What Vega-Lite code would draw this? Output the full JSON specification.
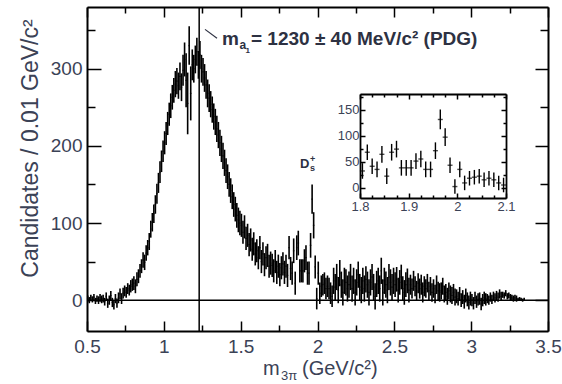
{
"$schema": "https://vega.github.io/schema/vega-lite/v6.json",
"width": 461, "height": 324,
"autosize": {"type": "none"},
"padding": {"left": 87, "top": 7, "right": 14, "bottom": 53},
"background": "white",
"config": {
  "view": {"stroke": null},
  "axis": {"grid": false, "domainColor": "#000", "domainWidth": 2, "tickColor": "#000", "tickWidth": 1.5, "labelFont": "Liberation Sans", "titleFont": "Liberation Sans", "labelColor": "#3b4256", "titleColor": "#3b4256", "labelFlush": false, "labelOverlap": false, "labelBound": false}
},
"datasets": {"h": [
{"x":0.505,"y":2,"e":4},{"x":0.515,"y":0,"e":4},{"x":0.525,"y":3,"e":4},{"x":0.535,"y":1,"e":4},{"x":0.545,"y":4,"e":4},{"x":0.555,"y":-1,"e":4},{"x":0.565,"y":2,"e":4},{"x":0.575,"y":0,"e":5},{"x":0.585,"y":3,"e":5},{"x":0.595,"y":1,"e":5},
{"x":0.605,"y":2,"e":5},{"x":0.615,"y":-2,"e":5},{"x":0.625,"y":5,"e":5},{"x":0.635,"y":-4,"e":6},{"x":0.645,"y":0,"e":6},{"x":0.655,"y":6,"e":6},{"x":0.665,"y":-3,"e":6},{"x":0.675,"y":-6,"e":6},{"x":0.685,"y":2,"e":6},{"x":0.695,"y":-4,"e":6},
{"x":0.705,"y":3,"e":7},{"x":0.715,"y":8,"e":7},{"x":0.725,"y":2,"e":7},{"x":0.735,"y":9,"e":7},{"x":0.745,"y":12,"e":7},{"x":0.755,"y":10,"e":7},{"x":0.765,"y":15,"e":7},{"x":0.775,"y":13,"e":7},{"x":0.785,"y":18,"e":8},{"x":0.795,"y":20,"e":8},
{"x":0.805,"y":22,"e":9},{"x":0.815,"y":18,"e":9},{"x":0.825,"y":27,"e":9},{"x":0.835,"y":31,"e":9},{"x":0.845,"y":38,"e":9},{"x":0.855,"y":44,"e":9},{"x":0.865,"y":52,"e":10},{"x":0.875,"y":49,"e":10},{"x":0.885,"y":61,"e":10},{"x":0.895,"y":68,"e":10},
{"x":0.905,"y":76,"e":11},{"x":0.915,"y":92,"e":11},{"x":0.925,"y":101,"e":12},{"x":0.935,"y":112,"e":12},{"x":0.945,"y":124,"e":12},{"x":0.955,"y":138,"e":13},{"x":0.965,"y":152,"e":13},{"x":0.975,"y":166,"e":14},{"x":0.985,"y":180,"e":14},{"x":0.995,"y":193,"e":14},
{"x":1.005,"y":204,"e":15},{"x":1.015,"y":216,"e":15},{"x":1.025,"y":229,"e":15},{"x":1.035,"y":241,"e":15},{"x":1.045,"y":252,"e":16},{"x":1.055,"y":263,"e":16},{"x":1.065,"y":272,"e":16},{"x":1.075,"y":280,"e":17},{"x":1.085,"y":284,"e":17},{"x":1.095,"y":278,"e":17},
{"x":1.105,"y":290,"e":18},{"x":1.115,"y":276,"e":18},{"x":1.125,"y":298,"e":20},{"x":1.135,"y":312,"e":22},{"x":1.145,"y":285,"e":35},{"x":1.155,"y":255,"e":40},{"x":1.165,"y":330,"e":25},{"x":1.175,"y":268,"e":35},{"x":1.185,"y":305,"e":20},{"x":1.195,"y":300,"e":18},
{"x":1.205,"y":312,"e":18},{"x":1.215,"y":322,"e":18},{"x":1.225,"y":305,"e":18},{"x":1.235,"y":318,"e":18},{"x":1.245,"y":300,"e":18},{"x":1.255,"y":296,"e":18},{"x":1.265,"y":288,"e":18},{"x":1.275,"y":279,"e":18},{"x":1.285,"y":268,"e":18},{"x":1.295,"y":262,"e":18},
{"x":1.305,"y":254,"e":17},{"x":1.315,"y":247,"e":17},{"x":1.325,"y":238,"e":17},{"x":1.335,"y":231,"e":17},{"x":1.345,"y":222,"e":17},{"x":1.355,"y":214,"e":17},{"x":1.365,"y":204,"e":17},{"x":1.375,"y":196,"e":17},{"x":1.385,"y":187,"e":17},{"x":1.395,"y":178,"e":17},
{"x":1.405,"y":168,"e":16},{"x":1.415,"y":160,"e":16},{"x":1.425,"y":150,"e":16},{"x":1.435,"y":142,"e":16},{"x":1.445,"y":134,"e":16},{"x":1.455,"y":124,"e":16},{"x":1.465,"y":118,"e":16},{"x":1.475,"y":110,"e":16},{"x":1.485,"y":104,"e":16},{"x":1.495,"y":100,"e":16},
{"x":1.505,"y":97,"e":15},{"x":1.515,"y":88,"e":15},{"x":1.525,"y":95,"e":15},{"x":1.535,"y":80,"e":15},{"x":1.545,"y":84,"e":15},{"x":1.555,"y":72,"e":15},{"x":1.565,"y":78,"e":15},{"x":1.575,"y":66,"e":15},{"x":1.585,"y":73,"e":15},{"x":1.595,"y":60,"e":15},
{"x":1.605,"y":64,"e":15},{"x":1.615,"y":55,"e":15},{"x":1.625,"y":68,"e":15},{"x":1.635,"y":50,"e":15},{"x":1.645,"y":60,"e":15},{"x":1.655,"y":46,"e":15},{"x":1.665,"y":55,"e":15},{"x":1.675,"y":58,"e":15},{"x":1.685,"y":44,"e":15},{"x":1.695,"y":48,"e":15},
{"x":1.705,"y":45,"e":15},{"x":1.715,"y":38,"e":15},{"x":1.725,"y":50,"e":15},{"x":1.735,"y":36,"e":15},{"x":1.745,"y":44,"e":15},{"x":1.755,"y":33,"e":15},{"x":1.765,"y":42,"e":15},{"x":1.775,"y":47,"e":15},{"x":1.785,"y":36,"e":15},{"x":1.795,"y":44,"e":15},
{"x":1.805,"y":32,"e":15},{"x":1.815,"y":68,"e":15},{"x":1.825,"y":41,"e":15},{"x":1.835,"y":35,"e":15},{"x":1.845,"y":64,"e":16},{"x":1.855,"y":22,"e":15},{"x":1.865,"y":68,"e":16},{"x":1.875,"y":74,"e":16},{"x":1.885,"y":38,"e":15},{"x":1.895,"y":38,"e":15},
{"x":1.905,"y":38,"e":15},{"x":1.915,"y":51,"e":15},{"x":1.925,"y":55,"e":16},{"x":1.935,"y":35,"e":15},{"x":1.945,"y":35,"e":15},{"x":1.955,"y":71,"e":16},{"x":1.965,"y":131,"e":19},{"x":1.975,"y":97,"e":17},{"x":1.985,"y":43,"e":15},{"x":1.995,"y":2,"e":14},
{"x":2.005,"y":35,"e":15},{"x":2.015,"y":9,"e":14},{"x":2.025,"y":18,"e":14},{"x":2.035,"y":20,"e":14},{"x":2.045,"y":22,"e":14},{"x":2.055,"y":15,"e":14},{"x":2.065,"y":18,"e":14},{"x":2.075,"y":15,"e":14},{"x":2.085,"y":9,"e":14},{"x":2.095,"y":5,"e":14},
{"x":2.105,"y":25,"e":17},{"x":2.115,"y":17,"e":17},{"x":2.125,"y":30,"e":17},{"x":2.135,"y":13,"e":17},{"x":2.145,"y":35,"e":17},{"x":2.155,"y":20,"e":17},{"x":2.165,"y":10,"e":17},{"x":2.175,"y":25,"e":17},{"x":2.185,"y":23,"e":17},{"x":2.195,"y":15,"e":17},
{"x":2.205,"y":20,"e":17},{"x":2.215,"y":30,"e":17},{"x":2.225,"y":15,"e":17},{"x":2.235,"y":25,"e":17},{"x":2.245,"y":10,"e":17},{"x":2.255,"y":23,"e":17},{"x":2.265,"y":33,"e":17},{"x":2.275,"y":17,"e":17},{"x":2.285,"y":13,"e":17},{"x":2.295,"y":25,"e":17},
{"x":2.305,"y":15,"e":17},{"x":2.315,"y":27,"e":17},{"x":2.325,"y":20,"e":17},{"x":2.335,"y":10,"e":17},{"x":2.345,"y":23,"e":17},{"x":2.355,"y":30,"e":17},{"x":2.365,"y":17,"e":17},{"x":2.375,"y":5,"e":17},{"x":2.385,"y":21,"e":17},{"x":2.395,"y":25,"e":17},
{"x":2.405,"y":15,"e":17},{"x":2.415,"y":38,"e":17},{"x":2.425,"y":10,"e":17},{"x":2.435,"y":25,"e":17},{"x":2.445,"y":20,"e":17},{"x":2.455,"y":13,"e":17},{"x":2.465,"y":30,"e":17},{"x":2.475,"y":23,"e":17},{"x":2.485,"y":17,"e":17},{"x":2.495,"y":25,"e":17},
{"x":2.505,"y":20,"e":16},{"x":2.515,"y":27,"e":16},{"x":2.525,"y":13,"e":16},{"x":2.535,"y":23,"e":16},{"x":2.545,"y":30,"e":16},{"x":2.555,"y":15,"e":16},{"x":2.565,"y":10,"e":16},{"x":2.575,"y":20,"e":16},{"x":2.585,"y":25,"e":16},{"x":2.595,"y":13,"e":16},
{"x":2.605,"y":20,"e":13},{"x":2.615,"y":15,"e":13},{"x":2.625,"y":25,"e":13},{"x":2.635,"y":18,"e":13},{"x":2.645,"y":12,"e":13},{"x":2.655,"y":22,"e":13},{"x":2.665,"y":15,"e":13},{"x":2.675,"y":20,"e":13},{"x":2.685,"y":10,"e":13},{"x":2.695,"y":18,"e":13},
{"x":2.705,"y":15,"e":12},{"x":2.715,"y":22,"e":12},{"x":2.725,"y":12,"e":12},{"x":2.735,"y":18,"e":12},{"x":2.745,"y":10,"e":12},{"x":2.755,"y":15,"e":12},{"x":2.765,"y":8,"e":12},{"x":2.775,"y":20,"e":12},{"x":2.785,"y":12,"e":12},{"x":2.795,"y":10,"e":12},
{"x":2.805,"y":12,"e":11},{"x":2.815,"y":18,"e":11},{"x":2.825,"y":8,"e":11},{"x":2.835,"y":10,"e":11},{"x":2.845,"y":5,"e":11},{"x":2.855,"y":12,"e":11},{"x":2.865,"y":8,"e":11},{"x":2.875,"y":6,"e":11},{"x":2.885,"y":10,"e":11},{"x":2.895,"y":4,"e":11},
{"x":2.905,"y":5,"e":9},{"x":2.915,"y":2,"e":9},{"x":2.925,"y":8,"e":9},{"x":2.935,"y":0,"e":9},{"x":2.945,"y":4,"e":9},{"x":2.955,"y":-2,"e":9},{"x":2.965,"y":6,"e":9},{"x":2.975,"y":1,"e":9},{"x":2.985,"y":-3,"e":9},{"x":2.995,"y":2,"e":9},
{"x":3.005,"y":0,"e":8},{"x":3.015,"y":-4,"e":8},{"x":3.025,"y":3,"e":8},{"x":3.035,"y":-2,"e":8},{"x":3.045,"y":1,"e":8},{"x":3.055,"y":2,"e":8},{"x":3.065,"y":-5,"e":8},{"x":3.075,"y":0,"e":8},{"x":3.085,"y":3,"e":8},{"x":3.095,"y":1,"e":8},
{"x":3.105,"y":2,"e":6},{"x":3.115,"y":0,"e":6},{"x":3.125,"y":4,"e":6},{"x":3.135,"y":1,"e":6},{"x":3.145,"y":5,"e":6},{"x":3.155,"y":3,"e":6},{"x":3.165,"y":6,"e":6},{"x":3.175,"y":4,"e":6},{"x":3.185,"y":8,"e":6},{"x":3.195,"y":5,"e":6},
{"x":3.205,"y":7,"e":4},{"x":3.215,"y":6,"e":4},{"x":3.225,"y":9,"e":4},{"x":3.235,"y":5,"e":4},{"x":3.245,"y":6,"e":4},{"x":3.255,"y":4,"e":4},{"x":3.265,"y":3,"e":4},{"x":3.275,"y":2,"e":4},{"x":3.285,"y":3,"e":4},{"x":3.295,"y":2,"e":4},
{"x":3.305,"y":1,"e":2},{"x":3.315,"y":2,"e":2},{"x":3.325,"y":1,"e":2},{"x":3.335,"y":0,"e":2},{"x":3.345,"y":1,"e":2}
]},
"layer": [
{
  "data": {"name": "h"},
  "layer": [
    {"mark": {"type": "errorbar", "ticks": false, "rule": {"strokeWidth": 1.6}, "color": "#000"},
     "encoding": {
       "x": {"field": "x", "type": "quantitative", "scale": {"domain": [0.5, 3.5], "nice": false, "zero": false},
             "axis": {"orient": "bottom", "title": null, "values": [0.5,0.75,1,1.25,1.5,1.75,2,2.25,2.5,2.75,3,3.25,3.5],
                      "labelExpr": "abs(datum.value*2-round(datum.value*2))<0.01 ? format(datum.value,'~g') : ''",
                      "tickSize": {"condition": {"test": "abs(datum.value*2-round(datum.value*2))<0.01", "value": -10}, "value": -6},
                      "labelPadding": 16, "labelFontSize": 19}},
       "y": {"field": "y", "type": "quantitative", "scale": {"domain": [-40, 380], "nice": false, "zero": false},
             "axis": {"orient": "left", "title": "Candidates / 0.01 GeV/c²", "values": [0,50,100,150,200,250,300,350],
                      "labelExpr": "datum.value % 100 === 0 ? datum.label : ''",
                      "tickSize": {"condition": {"test": "datum.value % 100 === 0", "value": -14}, "value": -8},
                      "labelPadding": 19, "labelFontSize": 19,
                      "titleFontSize": 23, "titleFontWeight": "normal", "titleX": -50, "titleY": 141, "titleAngle": -90, "titleBaseline": "alphabetic", "titleAlign": "center"}},
       "yError": {"field": "e"}
     }},
    {"mark": {"type": "tick", "orient": "horizontal", "size": 1.6, "thickness": 1.2, "color": "#000"},
     "encoding": {"x": {"field": "x", "type": "quantitative", "axis": null}, "y": {"field": "y", "type": "quantitative", "axis": null}}},
    {"data": {"values": [{}]},
     "mark": {"type": "point", "opacity": 0},
     "encoding": {
       "x": {"datum": 1, "type": "quantitative", "axis": {"orient": "top", "title": null, "labels": false, "values": [0.5,0.75,1,1.25,1.5,1.75,2,2.25,2.5,2.75,3,3.25,3.5],
              "tickSize": {"condition": {"test": "abs(datum.value*2-round(datum.value*2))<0.01", "value": -10}, "value": -6}}},
       "y": {"datum": 0, "type": "quantitative", "axis": {"orient": "right", "title": null, "labels": false, "values": [0,50,100,150,200,250,300,350],
              "tickSize": {"condition": {"test": "datum.value % 100 === 0", "value": -13}, "value": -8}}}
     }},
    {"data": {"values": [{}]}, "mark": {"type": "rule", "strokeWidth": 1.5, "color": "#000"},
     "encoding": {"y": {"datum": 0, "type": "quantitative", "axis": null}}},
    {"data": {"values": [{}]}, "mark": {"type": "rule", "strokeWidth": 1.5, "color": "#000"},
     "encoding": {"x": {"datum": 1.23, "type": "quantitative", "axis": null}}},
    {"data": {"values": [{}]}, "mark": {"type": "rule", "strokeWidth": 1.2, "color": "#2d3142"},
     "encoding": {"x": {"datum": 1.268, "type": "quantitative", "axis": null}, "y": {"datum": 351, "type": "quantitative", "axis": null},
                  "x2": {"datum": 1.346}, "y2": {"datum": 339.5}}},
    {"data": {"values": [{}]}, "mark": {"type": "text", "text": "m", "font": "Liberation Sans", "fontWeight": "bold", "fontSize": 19, "align": "left", "baseline": "alphabetic", "color": "#2d3142"},
     "encoding": {"x": {"datum": 1.3785, "type": "quantitative", "axis": null}, "y": {"datum": 330.7, "type": "quantitative", "axis": null}}},
    {"data": {"values": [{}]}, "mark": {"type": "text", "text": "a", "font": "Liberation Sans", "fontWeight": "bold", "fontSize": 12, "align": "left", "baseline": "alphabetic", "dy": 4, "color": "#2d3142"},
     "encoding": {"x": {"datum": 1.4922, "type": "quantitative", "axis": null}, "y": {"datum": 330.7, "type": "quantitative", "axis": null}}},
    {"data": {"values": [{}]}, "mark": {"type": "text", "text": "1", "font": "Liberation Sans", "fontWeight": "bold", "fontSize": 8, "align": "left", "baseline": "alphabetic", "dy": 8, "color": "#2d3142"},
     "encoding": {"x": {"datum": 1.5314, "type": "quantitative", "axis": null}, "y": {"datum": 330.7, "type": "quantitative", "axis": null}}},
    {"data": {"values": [{}]}, "mark": {"type": "text", "text": "= 1230 ± 40 MeV/c² (PDG)", "font": "Liberation Sans", "fontWeight": "bold", "fontSize": 19, "align": "left", "baseline": "alphabetic", "color": "#2d3142"},
     "encoding": {"x": {"datum": 1.5672, "type": "quantitative", "axis": null}, "y": {"datum": 330.7, "type": "quantitative", "axis": null}}},
    {"data": {"values": [{}]}, "mark": {"type": "text", "text": "D", "font": "Liberation Sans", "fontWeight": "bold", "fontSize": 13, "align": "left", "baseline": "alphabetic", "color": "#2d3142"},
     "encoding": {"x": {"datum": 1.886, "type": "quantitative", "axis": null}, "y": {"datum": 171.3, "type": "quantitative", "axis": null}}},
    {"data": {"values": [{}]}, "mark": {"type": "text", "text": "+", "font": "Liberation Sans", "fontWeight": "bold", "fontSize": 9, "align": "left", "baseline": "alphabetic", "dy": -6, "color": "#2d3142"},
     "encoding": {"x": {"datum": 1.951, "type": "quantitative", "axis": null}, "y": {"datum": 171.3, "type": "quantitative", "axis": null}}},
    {"data": {"values": [{}]}, "mark": {"type": "text", "text": "s", "font": "Liberation Sans", "fontWeight": "bold", "fontSize": 9, "align": "left", "baseline": "alphabetic", "dy": 3, "color": "#2d3142"},
     "encoding": {"x": {"datum": 1.951, "type": "quantitative", "axis": null}, "y": {"datum": 171.3, "type": "quantitative", "axis": null}}},
    {"data": {"values": [{}]}, "mark": {"type": "text", "text": "m", "font": "Liberation Sans", "fontSize": 20, "align": "left", "baseline": "alphabetic", "dy": 44, "color": "#3b4256"},
     "encoding": {"x": {"datum": 1.6453, "type": "quantitative", "axis": null}, "y": {"datum": -40, "type": "quantitative", "axis": null}}},
    {"data": {"values": [{}]}, "mark": {"type": "text", "text": "3π", "font": "Liberation Sans", "fontSize": 13, "align": "left", "baseline": "alphabetic", "dy": 49, "color": "#3b4256"},
     "encoding": {"x": {"datum": 1.7624, "type": "quantitative", "axis": null}, "y": {"datum": -40, "type": "quantitative", "axis": null}}},
    {"data": {"values": [{}]}, "mark": {"type": "text", "text": "(GeV/c²)", "font": "Liberation Sans", "fontSize": 20, "align": "left", "baseline": "alphabetic", "dy": 44, "color": "#3b4256"},
     "encoding": {"x": {"datum": 1.8992, "type": "quantitative", "axis": null}, "y": {"datum": -40, "type": "quantitative", "axis": null}}}
  ],
  "resolve": {"axis": {"x": "independent", "y": "independent"}}
},
{
  "data": {"name": "h"},
  "transform": [{"filter": "datum.x > 1.8 && datum.x < 2.1"}],
  "layer": [
    {"mark": {"type": "errorbar", "ticks": false, "rule": {"strokeWidth": 1.4}, "color": "#000"},
     "encoding": {
       "x": {"field": "x", "type": "quantitative", "scale": {"domain": [1.8, 2.1], "range": [273, 419], "nice": false, "zero": false},
             "axis": {"orient": "bottom", "offset": -133, "title": null, "values": [1.8,1.825,1.85,1.875,1.9,1.925,1.95,1.975,2,2.025,2.05,2.075,2.1],
                      "labelExpr": "abs(datum.value*10-round(datum.value*10))<0.01 ? format(datum.value,'~g') : ''",
                      "tickSize": {"condition": {"test": "abs(datum.value*10-round(datum.value*10))<0.01", "value": -5}, "value": -3},
                      "labelPadding": 7, "labelFontSize": 13, "domainWidth": 1.8}},
       "y": {"field": "y", "type": "quantitative", "scale": {"domain": [-20, 180], "range": [191, 87], "nice": false, "zero": false},
             "axis": {"orient": "left", "offset": -273, "title": null, "values": [0,25,50,75,100,125,150,175],
                      "labelExpr": "datum.value % 50 === 0 ? datum.label : ''",
                      "tickSize": {"condition": {"test": "datum.value % 50 === 0", "value": -5}, "value": -3},
                      "labelPadding": 6, "labelFontSize": 13, "domainWidth": 1.8}},
       "yError": {"field": "e"}
     }},
    {"mark": {"type": "tick", "orient": "horizontal", "size": 5, "thickness": 1.4, "color": "#000"},
     "encoding": {"x": {"field": "x", "type": "quantitative", "axis": null}, "y": {"field": "y", "type": "quantitative", "axis": null}}},
    {"mark": {"type": "point", "opacity": 0},
     "encoding": {
       "x": {"field": "x", "type": "quantitative", "axis": {"orient": "top", "offset": -87, "title": null, "labels": false, "values": [1.8,1.825,1.85,1.875,1.9,1.925,1.95,1.975,2,2.025,2.05,2.075,2.1],
              "tickSize": {"condition": {"test": "abs(datum.value*10-round(datum.value*10))<0.01", "value": -5}, "value": -3}, "domainWidth": 1.8}},
       "y": {"field": "y", "type": "quantitative", "axis": {"orient": "right", "offset": -42, "title": null, "labels": false, "values": [0,25,50,75,100,125,150,175],
              "tickSize": {"condition": {"test": "datum.value % 50 === 0", "value": -5}, "value": -3}, "domainWidth": 1.8}}
     }}
  ],
  "resolve": {"axis": {"x": "independent", "y": "independent"}}
}
],
"resolve": {"scale": {"x": "independent", "y": "independent"}, "axis": {"x": "independent", "y": "independent"}}
}
